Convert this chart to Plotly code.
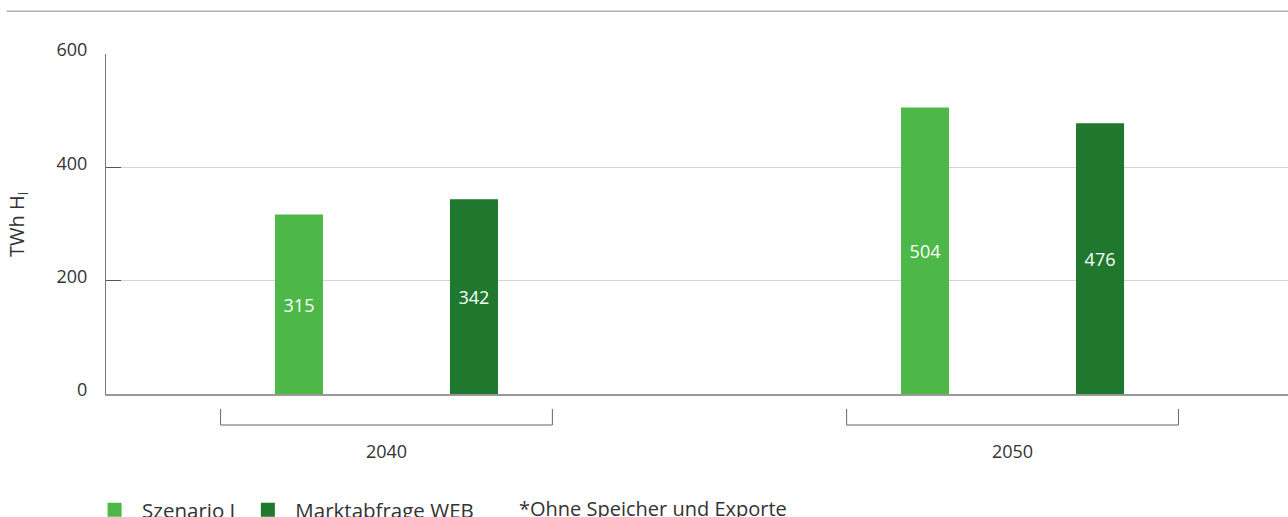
import plotly.graph_objects as go

# Wasserstoffbedarf in TWh (Heizwert)
years = ["2040", "2050"]
szenario_i = [315, 504]
marktabfrage_web = [342, 476]
y_ticks = [0, 200, 400, 600]

LIGHT_GREEN = "#4db848"
DARK_GREEN = "#20772e"
TEXT = "#333333"
FONT = "'Open Sans', Lato, sans-serif"

fig = go.Figure()
fig.add_trace(go.Bar(
    x=years, y=szenario_i, name="Szenario I",
    marker=dict(color=LIGHT_GREEN, line=dict(color=LIGHT_GREEN, width=2)),
    text=szenario_i, textposition="inside", insidetextanchor="middle",
    textfont=dict(color="white", size=18, family=FONT),
))
fig.add_trace(go.Bar(
    x=years, y=marktabfrage_web, name="Marktabfrage WEB",
    marker=dict(color=DARK_GREEN, line=dict(color=DARK_GREEN, width=2)),
    text=marktabfrage_web, textposition="inside", insidetextanchor="middle",
    textfont=dict(color="white", size=18, family=FONT),
))

shapes = [
    # Trennlinie oben
    dict(type="line", xref="paper", yref="paper", x0=-0.084, x1=1.0,
         y0=1.126, y1=1.126, line=dict(color="#b0b0b0", width=1.5)),
]
# Klammern unter den Jahresgruppen
for i in range(len(years)):
    for (xa, ya, xb, yb) in [(i - 0.265, -0.0912, i + 0.265, -0.0912),
                             (i - 0.265, -0.0912, i - 0.265, -0.044),
                             (i + 0.265, -0.0912, i + 0.265, -0.044)]:
        shapes.append(dict(type="line", xref="x", yref="paper",
                           x0=xa, x1=xb, y0=ya, y1=yb,
                           line=dict(color="#666666", width=1)))

fig.update_layout(
    width=1288, height=517,
    margin=dict(l=106, r=0, t=54, b=123, autoexpand=False),
    paper_bgcolor="white", plot_bgcolor="white",
    font=dict(family=FONT, size=18, color=TEXT),
    barmode="group", bargap=0.441, bargroupgap=0.737,
    showlegend=True,
    legend=dict(orientation="h", x=-0.016, y=-0.282, xanchor="left", yanchor="top",
                font=dict(size=20.5, color=TEXT), traceorder="normal",
                itemwidth=45),
    shapes=shapes,
    annotations=[
        dict(text="TWh H<sub>i</sub>", xref="paper", yref="paper",
             x=-0.0753, y=0.5, textangle=-90, showarrow=False,
             xanchor="center", yanchor="middle",
             font=dict(size=20, color=TEXT)),
        dict(text="*Ohne Speicher und Exporte", xref="paper", yref="paper",
             x=(517 - 106) / 1182, y=-0.291, xanchor="left", yanchor="top",
             showarrow=False, font=dict(size=20, color=TEXT)),
    ],
)

fig.update_xaxes(
    type="category", range=[-0.448, 1.440],
    showline=True, linecolor="#999999", linewidth=1.5,
    showgrid=False, ticks="", ticklabelstandoff=41,
    tickfont=dict(size=18, color=TEXT),
)
fig.update_yaxes(
    range=[0, 600], tickvals=y_ticks,
    showline=True, linecolor="#777777", linewidth=1,
    showgrid=True, gridcolor="#d4d4d4", gridwidth=1,
    zeroline=False,
    ticks="inside", ticklen=15, tickcolor="#555555", tickwidth=1,
    ticklabelstandoff=14, ticklabelshift=-4,
    tickfont=dict(size=18, color=TEXT),
)

fig.write_html("out.html")
